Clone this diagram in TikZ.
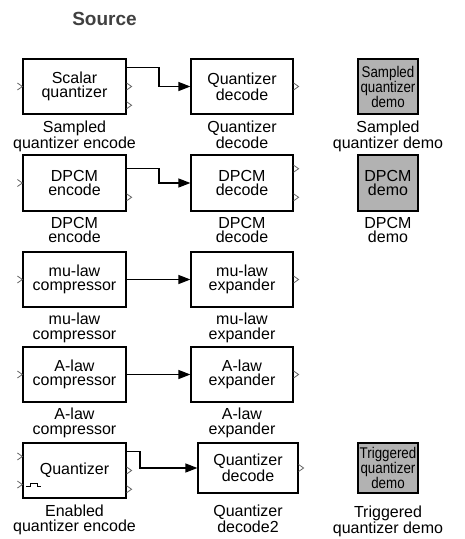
\documentclass[tikz,border=0pt]{standalone}
\usepackage{fontspec}
\setmainfont{Liberation Sans}
\newfontfamily\narrowsans[FakeStretch=0.86]{Liberation Sans}
\usetikzlibrary{arrows.meta,calc}
\begin{document}
\begin{tikzpicture}[x=1pt,y=-1pt,
  txt/.style={font=\fontsize{16}{14.5}\selectfont},
  blk/.style={txt,draw=black,line width=1.2pt,fill=white,inner sep=0pt,align=center},
  demo/.style={blk,fill=black!30,font=\narrowsans\fontsize{15.5}{15}\selectfont},
  lbl/.style={txt,anchor=north,inner sep=0pt,align=center},
  conn/.style={line width=1.2pt,-{Triangle[length=12pt,width=9pt]}},
  port/.style={draw=black!60,line width=0.8pt},
  oport/.pic={\draw[port] (0,-3.5) -- (5,0) -- (0,3.5);},
  iport/.pic={\draw[port] (-5,-3.5) -- (0,0) -- (-5,3.5);},
  enab/.pic={\draw[line width=0.8pt] (0,0) -- (4,0) -- (4,-3) -- (11,-3) -- (11,0) -- (15,0);},
]
\useasboundingbox (0,0) rectangle (464,539);

% title
\node[font=\fontsize{19}{22}\selectfont\bfseries,text=black!75] (title) at (104.5,18.5) {Source};

% row 1: sampled quantizer
\node[blk,minimum width=103pt,minimum height=55pt] (a1) at (74.5,86.5) {Scalar\\quantizer};
\node[blk,minimum width=102pt,minimum height=55pt] (b1) at (242,86.5) {Quantizer\\decode};
\node[demo,minimum width=60pt,minimum height=55pt] (c1) at (388,86.5) {Sampled\\quantizer\\demo};
\node[lbl] (a1l) at ($(a1.south)+(0,6.5)$) {Sampled\\quantizer encode};
\node[lbl] (b1l) at ($(b1.south)+(0,6.5)$) {Quantizer\\decode};
\node[lbl] (c1l) at ($(c1.south)+(0,6.5)$) {Sampled\\quantizer demo};

% row 2: DPCM
\node[blk,minimum width=103pt,minimum height=56pt] (a2) at (74.5,183) {DPCM\\encode};
\node[blk,minimum width=102pt,minimum height=56pt] (b2) at (242,183) {DPCM\\decode};
\node[demo,minimum width=60pt,minimum height=56pt,font=\normalfont\fontsize{16}{14.5}\selectfont] (c2) at (388,183) {DPCM\\demo};
\node[lbl] (a2l) at ($(a2.south)+(0,5.5)$) {DPCM\\encode};
\node[lbl] (b2l) at ($(b2.south)+(0,5.5)$) {DPCM\\decode};
\node[lbl] (c2l) at ($(c2.south)+(0,5.5)$) {DPCM\\demo};

% row 3: mu-law
\node[blk,minimum width=103pt,minimum height=55pt] (a3) at (74.5,279.5) {mu-law\\compressor};
\node[blk,minimum width=102pt,minimum height=55pt] (b3) at (242,279.5) {mu-law\\expander};
\node[lbl] (a3l) at ($(a3.south)+(0,5.5)$) {mu-law\\compressor};
\node[lbl] (b3l) at ($(b3.south)+(0,5.5)$) {mu-law\\expander};

% row 4: A-law
\node[blk,minimum width=103pt,minimum height=55pt] (a4) at (74.5,374.5) {A-law\\compressor};
\node[blk,minimum width=102pt,minimum height=55pt] (b4) at (242,374.5) {A-law\\expander};
\node[lbl] (a4l) at ($(a4.south)+(0,5.5)$) {A-law\\compressor};
\node[lbl] (b4l) at ($(b4.south)+(0,5.5)$) {A-law\\expander};

% row 5: enabled / triggered quantizer
\node[blk,minimum width=103pt,minimum height=55pt] (a5) at (74.5,470.5) {Quantizer};
\node[blk,minimum width=100pt,minimum height=50pt] (b5) at (248,468) {Quantizer\\decode};
\node[demo,minimum width=60pt,minimum height=50pt] (c5) at (388,468) {Triggered\\quantizer\\demo};
\node[lbl] (a5l) at ($(a5.south)+(0,6.5)$) {Enabled\\quantizer encode};
\node[lbl] (b5l) at (b5 |- a5l.north) {Quantizer\\decode2};
\node[lbl] (c5l) at ([yshift=-1pt]c5 |- a5l.north) {Triggered\\quantizer demo};

% port locations
\coordinate (a1o1) at ($(a1.north east)!1/6!(a1.south east)$);
\coordinate (a1o2) at ($(a1.north east)!3/6!(a1.south east)$);
\coordinate (a1o3) at ($(a1.north east)!5/6!(a1.south east)$);
\coordinate (a2o1) at ($(a2.north east)!1/4!(a2.south east)$);
\coordinate (a2o2) at ($(a2.north east)!3/4!(a2.south east)$);
\coordinate (b2o1) at ($(b2.north east)!1/4!(b2.south east)$);
\coordinate (b2o2) at ($(b2.north east)!3/4!(b2.south east)$);
\coordinate (a5o1) at ($(a5.north east)!1/6!(a5.south east)$);
\coordinate (a5o2) at ($(a5.north east)!3/6!(a5.south east)$);
\coordinate (a5o3) at ($(a5.north east)!5/6!(a5.south east)$);
\coordinate (a5i1) at ($(a5.north west)!1/4!(a5.south west)$);
\coordinate (a5i2) at ($(a5.north west)!3/4!(a5.south west)$);
\coordinate (bend1) at (159,0);
\coordinate (bend5) at (140,0);

% open ports
\pic at (a1.west) {iport};
\pic at (a1o2) {oport};
\pic at (a1o3) {oport};
\pic at (b1.east) {oport};
\pic at (a2.west) {iport};
\pic at (a2o2) {oport};
\pic at (b2o1) {oport};
\pic at (b2o2) {oport};
\pic at (a3.west) {iport};
\pic at (b3.east) {oport};
\pic at (a4.west) {iport};
\pic at (b4.east) {oport};
\pic at (a5i1) {iport};
\pic at (a5i2) {iport};
\pic at (a5o2) {oport};
\pic at (a5o3) {oport};
\pic at (b5.east) {oport};
\pic at ([xshift=4pt,yshift=-2pt]a5i2) {enab};

% signal lines
\draw[conn] (a1o1) -- (a1o1 -| bend1) |- (b1.west);
\draw[conn] (a2o1) -- (a2o1 -| bend1) |- (b2.west);
\draw[conn] (a3.east) -- (b3.west);
\draw[conn] (a4.east) -- (b4.west);
\draw[conn] (a5o1) -- (a5o1 -| bend5) |- (b5.west);
\end{tikzpicture}
\end{document}
